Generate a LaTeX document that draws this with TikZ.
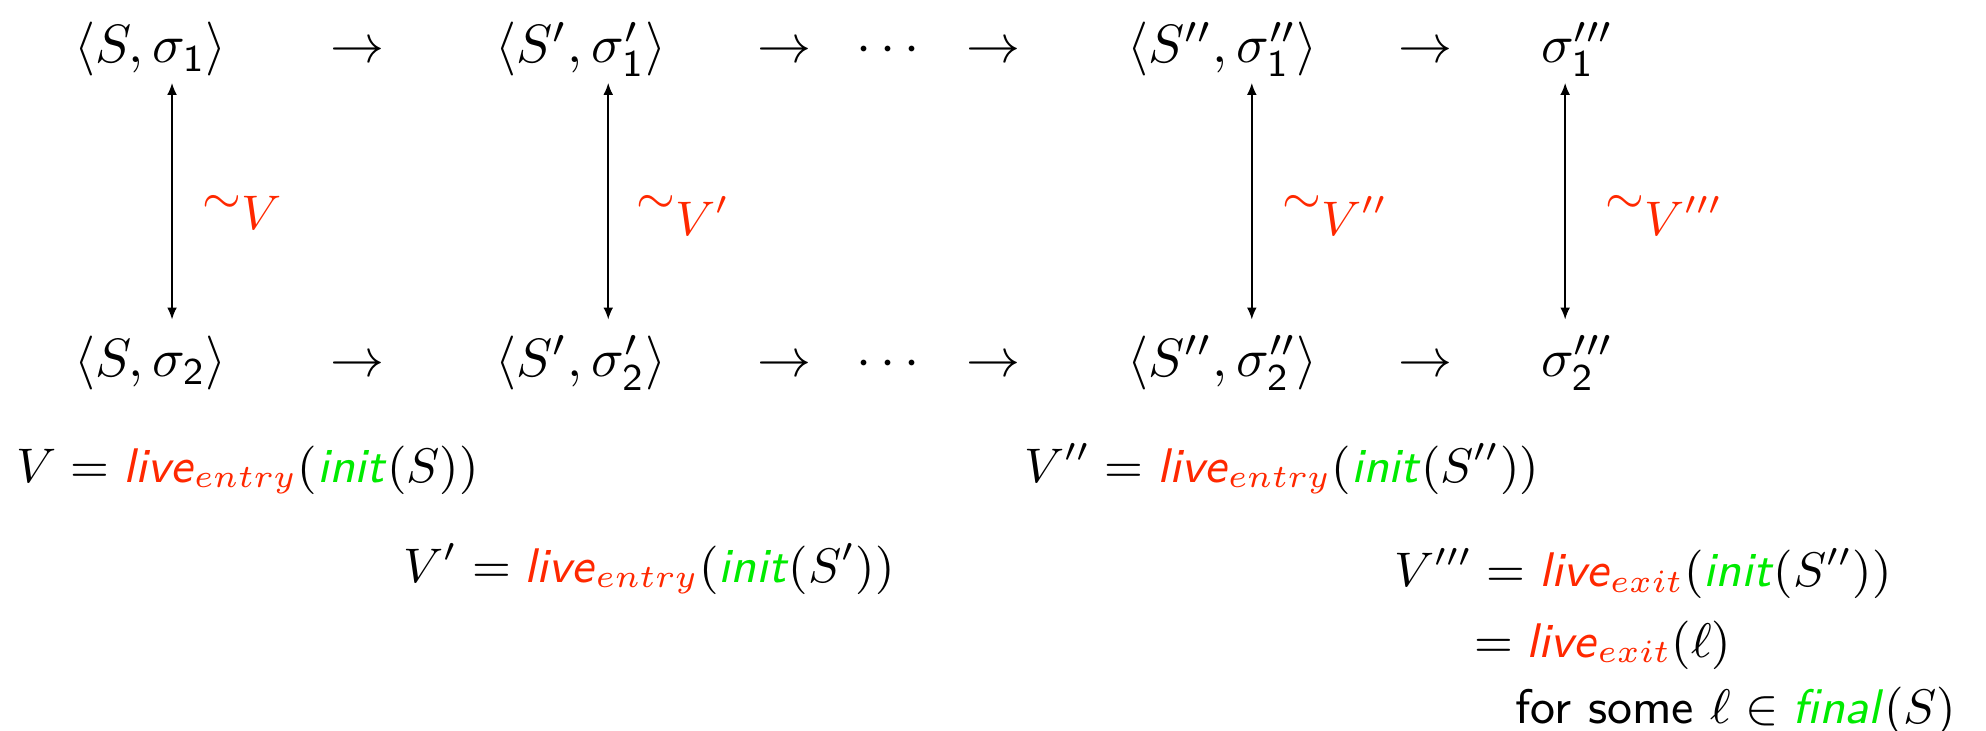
\documentclass[tikz,border=0pt,10pt]{standalone}
\usepackage{amsmath,amssymb}
\usepackage{xcolor}
\usepackage{tikz}
\usetikzlibrary{arrows,arrows.meta,positioning}

\definecolor{livered}{RGB}{255,40,0}
\definecolor{initgreen}{RGB}{0,235,0}
\newcommand{\livefn}[1]{\textcolor{livered}{\textsf{\textit{live}}_{#1}}}
\newcommand{\initfn}{\textcolor{initgreen}{\textsf{\textit{init}}}}
\newcommand{\finalfn}{\textcolor{initgreen}{\textsf{\textit{final}}}}
\newcommand{\sone}{\mathsf{1}}
\newcommand{\stwo}{\mathsf{2}}
\newcommand{\simsub}[1]{\sim_{\textstyle #1}}

\begin{document}
\begin{tikzpicture}[
    conf/.style={anchor=base, inner sep=0pt},
    eqn/.style={anchor=base west, inner sep=0pt, font=\small},
    simarrow/.style={{Latex[length=2.2pt,width=1.8pt]}-{Latex[length=2.2pt,width=1.8pt]}, line width=0.3pt},
    simlabel/.style={midway, anchor=base west, inner sep=0pt, xshift=#1, yshift=-0.078cm,
                     text=livered, font=\small},
    simlabel/.default=0.195cm
]
\useasboundingbox (0,0) rectangle (12.93,-4.753);

% top run
\node[conf] (a1) at (0.98,-0.41) {$\langle S,\sigma_{\sone}\rangle$};
\node[conf] (s1) at (2.33,-0.41) {$\rightarrow$};
\node[conf] (b1) at (3.78,-0.41) {$\langle S',\sigma'_{\sone}\rangle$};
\node[conf] (s2) at (5.11,-0.41) {$\rightarrow$};
\node[conf] (d1) at (5.81,-0.41) {$\cdots$};
\node[conf] (s3) at (6.47,-0.41) {$\rightarrow$};
\node[conf] (c1) at (7.96,-0.41) {$\langle S'',\sigma''_{\sone}\rangle$};
\node[conf] (s4) at (9.28,-0.41) {$\rightarrow$};
\node[conf] (e1) at (10.27,-0.41) {$\sigma'''_{\sone}$};

% bottom run
\node[conf] (a2) at (0.98,-2.45) {$\langle S,\sigma_{\stwo}\rangle$};
\node[conf] (t1) at (2.33,-2.45) {$\rightarrow$};
\node[conf] (b2) at (3.78,-2.45) {$\langle S',\sigma'_{\stwo}\rangle$};
\node[conf] (t2) at (5.11,-2.45) {$\rightarrow$};
\node[conf] (d2) at (5.81,-2.45) {$\cdots$};
\node[conf] (t3) at (6.47,-2.45) {$\rightarrow$};
\node[conf] (c2) at (7.96,-2.45) {$\langle S'',\sigma''_{\stwo}\rangle$};
\node[conf] (t4) at (9.28,-2.45) {$\rightarrow$};
\node[conf] (e2) at (10.27,-2.45) {$\sigma'''_{\stwo}$};

% ends of the equivalence arrows
\coordinate (va1) at (1.12,-0.54);  \coordinate (va2) at (1.12,-2.08);
\coordinate (vb1) at (3.96,-0.54);  \coordinate (vb2) at (3.96,-2.08);
\coordinate (vc1) at (8.15,-0.54);  \coordinate (vc2) at (8.15,-2.08);
\coordinate (ve1) at (10.19,-0.54); \coordinate (ve2) at (10.19,-2.08);

\draw[simarrow] (va1) -- node[simlabel] (la) {$\simsub{V}$} (va2);
\draw[simarrow] (vb1) -- node[simlabel=0.18cm] (lb) {$\simsub{V'}$} (vb2);
\draw[simarrow] (vc1) -- node[simlabel] (lc) {$\simsub{V''}$} (vc2);
\draw[simarrow] (ve1) -- node[simlabel=0.26cm] (le) {$\simsub{V'''}$} (ve2);

% liveness sets
\node[eqn] (eqa) at (0.10,-3.14) {$V = \livefn{entry}(\initfn(S))$};
\node[eqn] (eqc) at (6.66,-3.14) {$V'' = \livefn{entry}(\initfn(S''))$};
\node[eqn] (eqb) at (2.62,-3.79) {$V' = \livefn{entry}(\initfn(S'))$};
\node[eqn] (eqe) at (9.07,-3.82) {$V''' = \livefn{exit}(\initfn(S''))$};
\node[eqn] (eqf) at (9.59,-4.28) {$= \livefn{exit}(\ell)$};
\node[eqn] (eqg) at (9.86,-4.71) {\textsf{for some} $\ell \in \finalfn(S)$};
\end{tikzpicture}
\end{document}
